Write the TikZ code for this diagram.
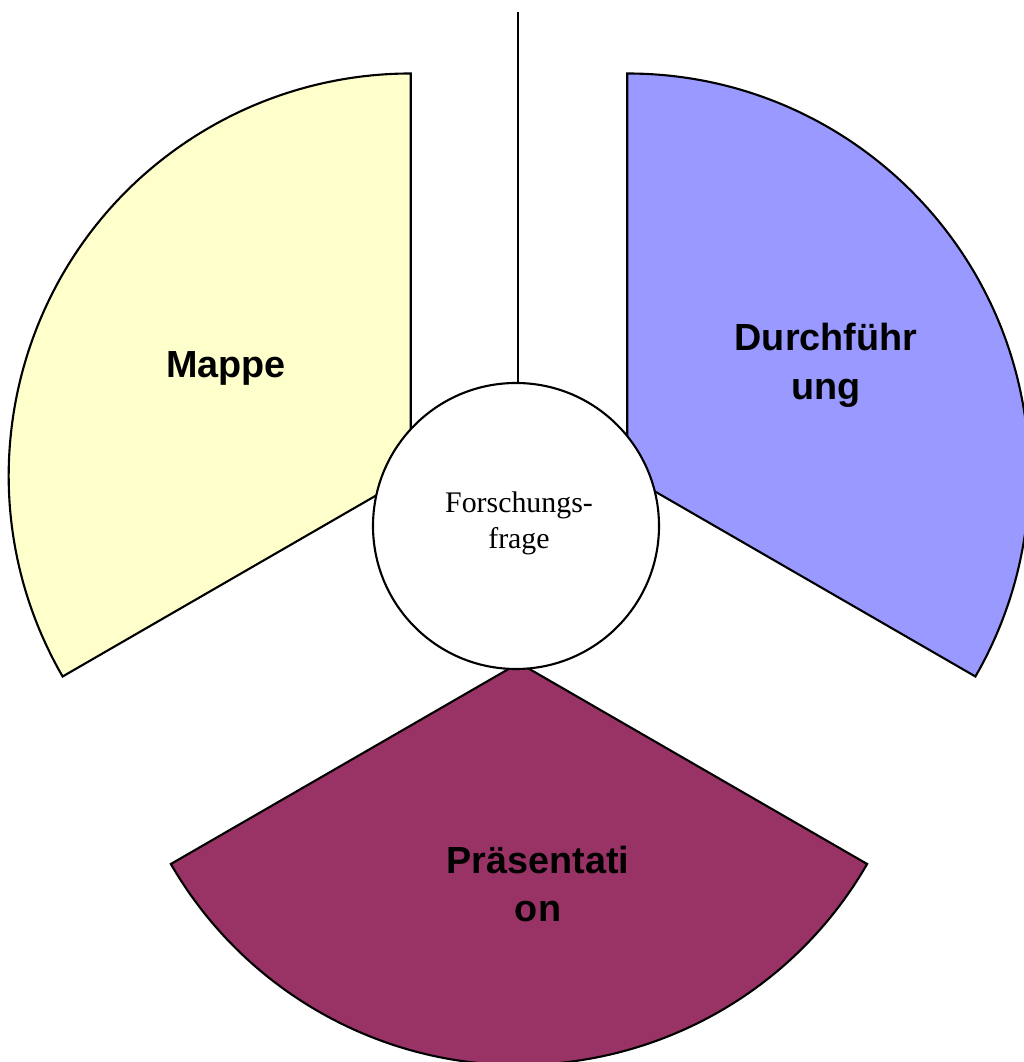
\documentclass[tikz,border=0pt]{standalone}
\usepackage{fontspec}
\setmainfont{Liberation Serif}
\newfontfamily\labelfont{Liberation Sans}
\usepackage{tikz}
\usetikzlibrary{calc}
\definecolor{mapcolor}{RGB}{255,255,204}
\definecolor{durcolor}{RGB}{153,153,255}
\definecolor{prcolor}{RGB}{153,51,102}

\begin{document}
\begin{tikzpicture}[line width=1.2pt,
    seglabel/.style={font=\labelfont\bfseries\fontsize{21.5}{27.8}\selectfont, align=center},
    centerlabel/.style={font=\fontsize{17}{20.4}\selectfont, align=center}]
    \useasboundingbox (0,0) rectangle (20.46,21.24);
    % common centre of the exploded pie
    \coordinate (pc) at (10.38,10.48);
    % three segments, each pushed 2.5 out along its middle direction
    \foreach \ang/\col in {150/mapcolor, 30/durcolor, 270/prcolor}{
      \filldraw[fill=\col, draw=black] ($(pc)+(\ang:2.5)$) -- ++({\ang+60}:8.04)
        arc[start angle=\ang+60, end angle=\ang-60, radius=8.04] -- cycle;
    }
    % labels
    \node[seglabel] (mappe) at (4.52,13.88) {Mappe};
    \node[seglabel] (durch) at (16.52,13.94) {Durchführ\\ung};
    \node[seglabel] (praes) at (10.76,3.56) {Präsentati\\on};
    % middle circle and the line above it
    \node[circle, draw, fill=white, minimum size=5.72cm, inner sep=0pt] (fq) at (10.32,10.72) {};
    \node[centerlabel] (fqtext) at (10.38,10.78) {Forschungs-\\frage};
    \coordinate (topend) at (10.36,21.0);
    \draw (topend) -- (fq.north -| topend);
  \end{tikzpicture}
\end{document}
